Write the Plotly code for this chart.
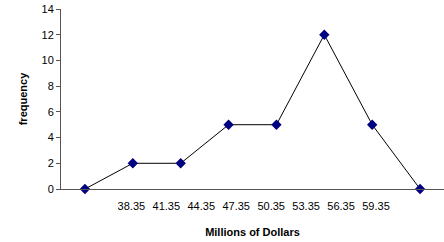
import plotly.graph_objects as go

point_index = [0, 1, 2, 3, 4, 5, 6, 7]
frequency = [0, 2, 2, 5, 5, 12, 5, 0]
tick_labels = ["38.35", "41.35", "44.35", "47.35", "50.35", "53.35", "56.35", "59.35"]
label_pos = [0.97 + 0.73 * i for i in range(len(tick_labels))]

fig = go.Figure()
fig.add_trace(go.Scatter(
    x=point_index, y=frequency, mode="lines+markers",
    line=dict(color="black", width=1),
    marker=dict(symbol="diamond", color="#000080", size=8),
    showlegend=False, cliponaxis=False,
))

font = dict(family="Liberation Sans, Arial, sans-serif", size=11, color="black")
fig.update_layout(
    width=444, height=242,
    margin=dict(l=61, r=0, t=9, b=53),
    paper_bgcolor="white", plot_bgcolor="white",
    font=font,
    xaxis=dict(
        range=[-0.5, 7.5], tickvals=label_pos, ticktext=tick_labels,
        ticks="", showgrid=False, zeroline=False,
        showline=True, linecolor="#555555", linewidth=1,
        ticklabelstandoff=7,
        title=dict(text="<b>Millions of Dollars</b>", font=font, standoff=17),
        fixedrange=True,
    ),
    yaxis=dict(
        range=[0, 14], dtick=2, ticks="outside", ticklen=4, tickcolor="#555555",
        showgrid=False, zeroline=False,
        showline=True, linecolor="#555555", linewidth=1,
        title=dict(text="<b>frequency</b>", font=font, standoff=11),
        fixedrange=True,
    ),
)
fig.write_html("out.html", config={"displayModeBar": False},
               post_script="document.body.style.margin='0';")
